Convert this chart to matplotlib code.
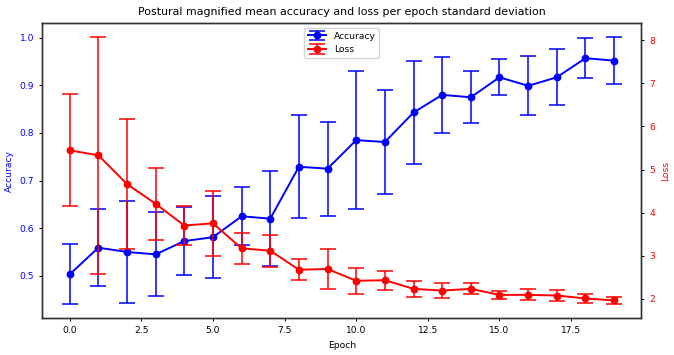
import numpy as np
import matplotlib
matplotlib.use("Agg")
import matplotlib.pyplot as plt

#dati
epochs = list(range(20))
acc_mean = [0.503, 0.559, 0.550, 0.545, 0.573, 0.581, 0.625, 0.620, 0.729, 0.725,
            0.785, 0.781, 0.843, 0.880, 0.875, 0.917, 0.899, 0.917, 0.957, 0.952]
acc_std = [0.063, 0.081, 0.108, 0.088, 0.071, 0.086, 0.061, 0.100, 0.108, 0.099,
           0.145, 0.110, 0.108, 0.080, 0.055, 0.038, 0.062, 0.059, 0.042, 0.050]
loss_mean = [5.445, 5.33, 4.662, 4.203, 3.70, 3.75, 3.17, 3.115, 2.674, 2.69,
             2.417, 2.43, 2.23, 2.19, 2.23, 2.09, 2.09, 2.075, 2.007, 1.96]
loss_std = [1.30, 2.75, 1.50, 0.84, 0.45, 0.75, 0.36, 0.37, 0.25, 0.46,
            0.30, 0.22, 0.18, 0.17, 0.13, 0.09, 0.13, 0.12, 0.10, 0.09]

fs = 6.6  #dimensione del testo
fig, ax1 = plt.subplots(figsize=(6.74, 3.55), dpi=100)
fig.subplots_adjust(left=0.063, right=0.9515, top=0.934, bottom=0.105)

style = dict(marker='o', markersize=4.6, linewidth=1.4, elinewidth=1.1, capsize=6, capthick=1.1)
h1 = ax1.errorbar(epochs, acc_mean, yerr=acc_std, color='b', label='Accuracy', **style)
ax1.set_xlabel('Epoch', fontsize=fs)
ax1.set_ylabel('Accuracy', color='b', fontsize=fs)
ax1.tick_params(axis='y', labelcolor='b', labelsize=fs, length=2.5, width=0.7)
ax1.tick_params(axis='x', labelsize=fs, length=2.5, width=0.7)

ax2 = ax1.twinx()
h2 = ax2.errorbar(epochs, loss_mean, yerr=loss_std, color='r', label='Loss', **style)
ax2.set_ylabel('Loss', color='r', fontsize=fs)
ax2.tick_params(axis='y', labelcolor='r', labelsize=fs, length=2.5, width=0.7)

for ax in (ax1, ax2):
    for s in ax.spines.values():
        s.set_linewidth(1.0)
        s.set_edgecolor('#333333')

ax1.legend([h1, h2], ['Accuracy', 'Loss'], loc='upper center', fontsize=fs)
ax1.set_title('Postural magnified mean accuracy and loss per epoch standard deviation', fontsize=7.9)

plt.savefig('out.png', dpi=100)
plt.close()
